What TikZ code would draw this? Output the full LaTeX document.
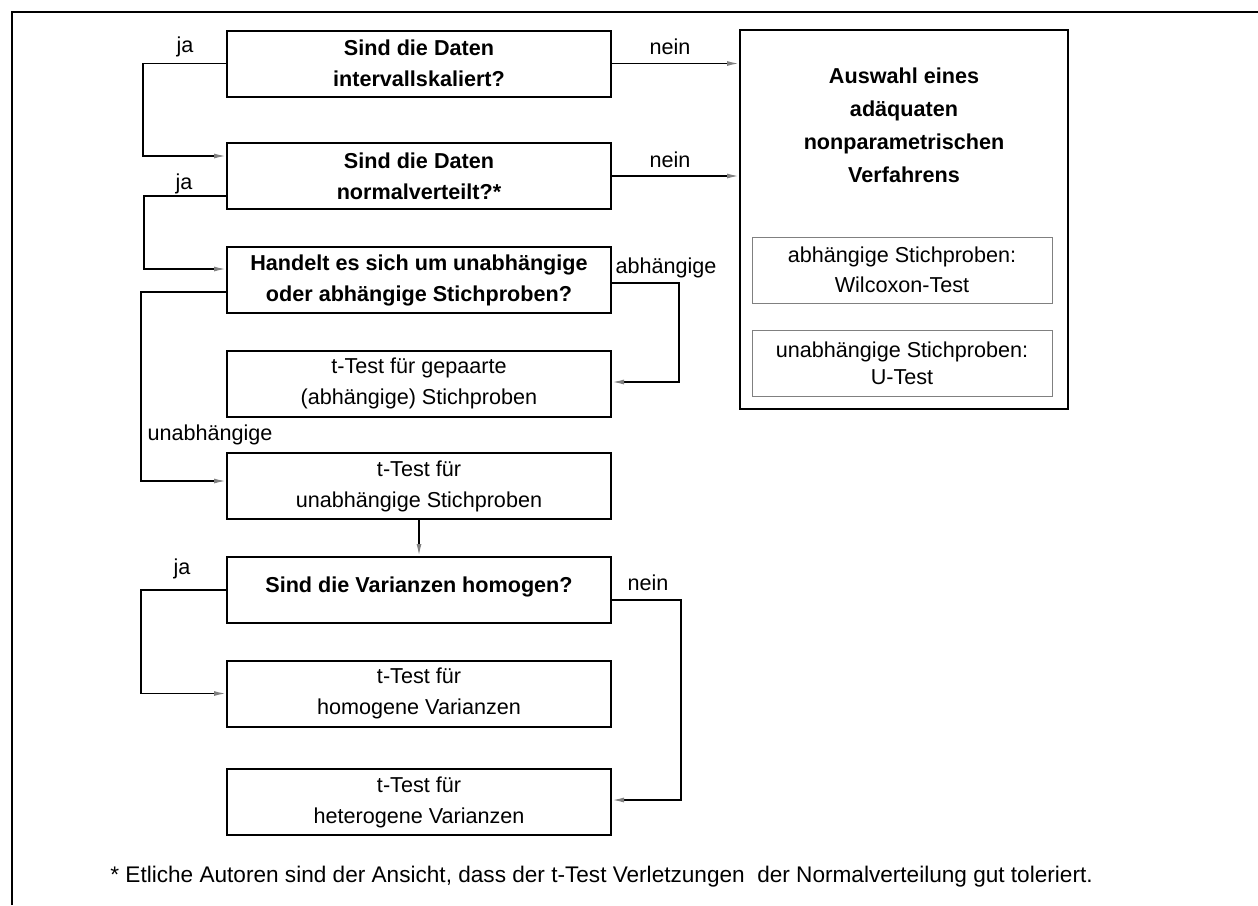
\documentclass[tikz,border=0pt]{standalone}
\usepackage{fontspec}
\setmainfont{Liberation Sans}
\usetikzlibrary{arrows.meta,calc}
\begin{document}
\begin{tikzpicture}[x=0.5pt,y=-0.5pt,
  font=\fontsize{10.8}{15.5}\selectfont,
  box/.style={draw,line width=1pt,minimum width=192pt,minimum height=33pt,align=center,inner sep=0pt},
  qbox/.style={box,font=\fontsize{10.8}{15.5}\selectfont\bfseries},
  ibox/.style={draw=gray,line width=0.5pt,minimum width=150pt,minimum height=33pt,align=center,inner sep=0pt,font=\fontsize{10.8}{15}\selectfont},
  conn/.style={line width=0.75pt,-{Latex[length=6pt,width=2.5pt,color=gray]}},
  lbl/.style={inner sep=0pt}]
\useasboundingbox (0,0) rectangle (1258,905);
% frame
\draw[line width=1pt] (12,905) -- (12,12) -- (1258,12);

% left column boxes
\node[qbox] (b1) at (419,63.5) {Sind die Daten\\intervallskaliert?};
\node[qbox] (b2) at (419,176) {Sind die Daten\\normalverteilt?*};
\node[qbox] (b3) at (419,280) {Handelt es sich um unabhängige\\oder abhängige Stichproben?};
\node[box] (b4) at (419,383.5) {t-Test für gepaarte\\(abhängige) Stichproben};
\node[box] (b5) at (419,486) {t-Test für\\unabhängige Stichproben};
\node[qbox,text depth=5pt] (b6) at (419,590) {Sind die Varianzen homogen?};
\node[box] (b7) at (419,693.5) {t-Test für\\homogene Varianzen};
\node[box] (b8) at (419,802) {t-Test für\\heterogene Varianzen};

% big right box
\node[draw,line width=1pt,minimum width=164pt,minimum height=189.5pt,inner sep=0pt] (big) at (904,219.5) {};
\node[lbl,align=center,font=\fontsize{10.8}{16.5}\selectfont\bfseries] (bigt) at (904,125) {Auswahl eines\\adäquaten\\nonparametrischen\\Verfahrens};
\node[ibox] (i1) at (902,270) {abhängige Stichproben:\\Wilcoxon-Test};
\node[ibox,font=\fontsize{10.8}{13.5}\selectfont] (i2) at (902,363) {unabhängige Stichproben:\\U-Test};

% connectors
\draw[conn] (b1.west) -| ([xshift=-41.5pt,yshift=10pt]b2.west) -- ([yshift=10pt]b2.west);
\draw[conn] ([yshift=-10pt]b2.west) -| ([xshift=-41pt,yshift=5.5pt]b3.west) -- ([yshift=5.5pt]b3.west);
\draw[conn] ([yshift=-6pt]b3.west) -| ([xshift=-42.5pt,yshift=2.5pt]b5.west) -- ([yshift=2.5pt]b5.west);
\draw[conn] ([yshift=-1.5pt]b3.east) -| ([xshift=33.5pt,yshift=0.75pt]b4.east) -- ([yshift=0.75pt]b4.east);
\draw[conn] (b1.east) -- (b1.east -| big.west);
\draw[conn] (b2.east) -- (b2.east -| big.west);
\draw[conn] (b5.south) -- (b6.north);
\draw[conn] (b6.west) -| ([xshift=-42.5pt]b7.west) -- (b7.west);
\draw[conn] ([yshift=-5pt]b6.east) -| ([xshift=34.5pt,yshift=1pt]b8.east) -- ([yshift=1pt]b8.east);

% labels
\node[lbl] (l1) at (185,47) {ja};
\node[lbl] (l2) at (184,184) {ja};
\node[lbl] (l3) at (210,435) {unabhängige};
\node[lbl] (l4) at (182,569) {ja};
\node[lbl] (l5) at (670,47) {nein};
\node[lbl] (l6) at (670,160) {nein};
\node[lbl] (l7) at (666,268) {abhängige};
\node[lbl] (l8) at (648,583) {nein};

% footnote
\node[lbl,anchor=west,font=\fontsize{11.3}{13}\selectfont] (fn) at (110,877) {* Etliche Autoren sind der Ansicht, dass der t-Test Verletzungen\ \ der Normalverteilung gut toleriert.};
\end{tikzpicture}
\end{document}
